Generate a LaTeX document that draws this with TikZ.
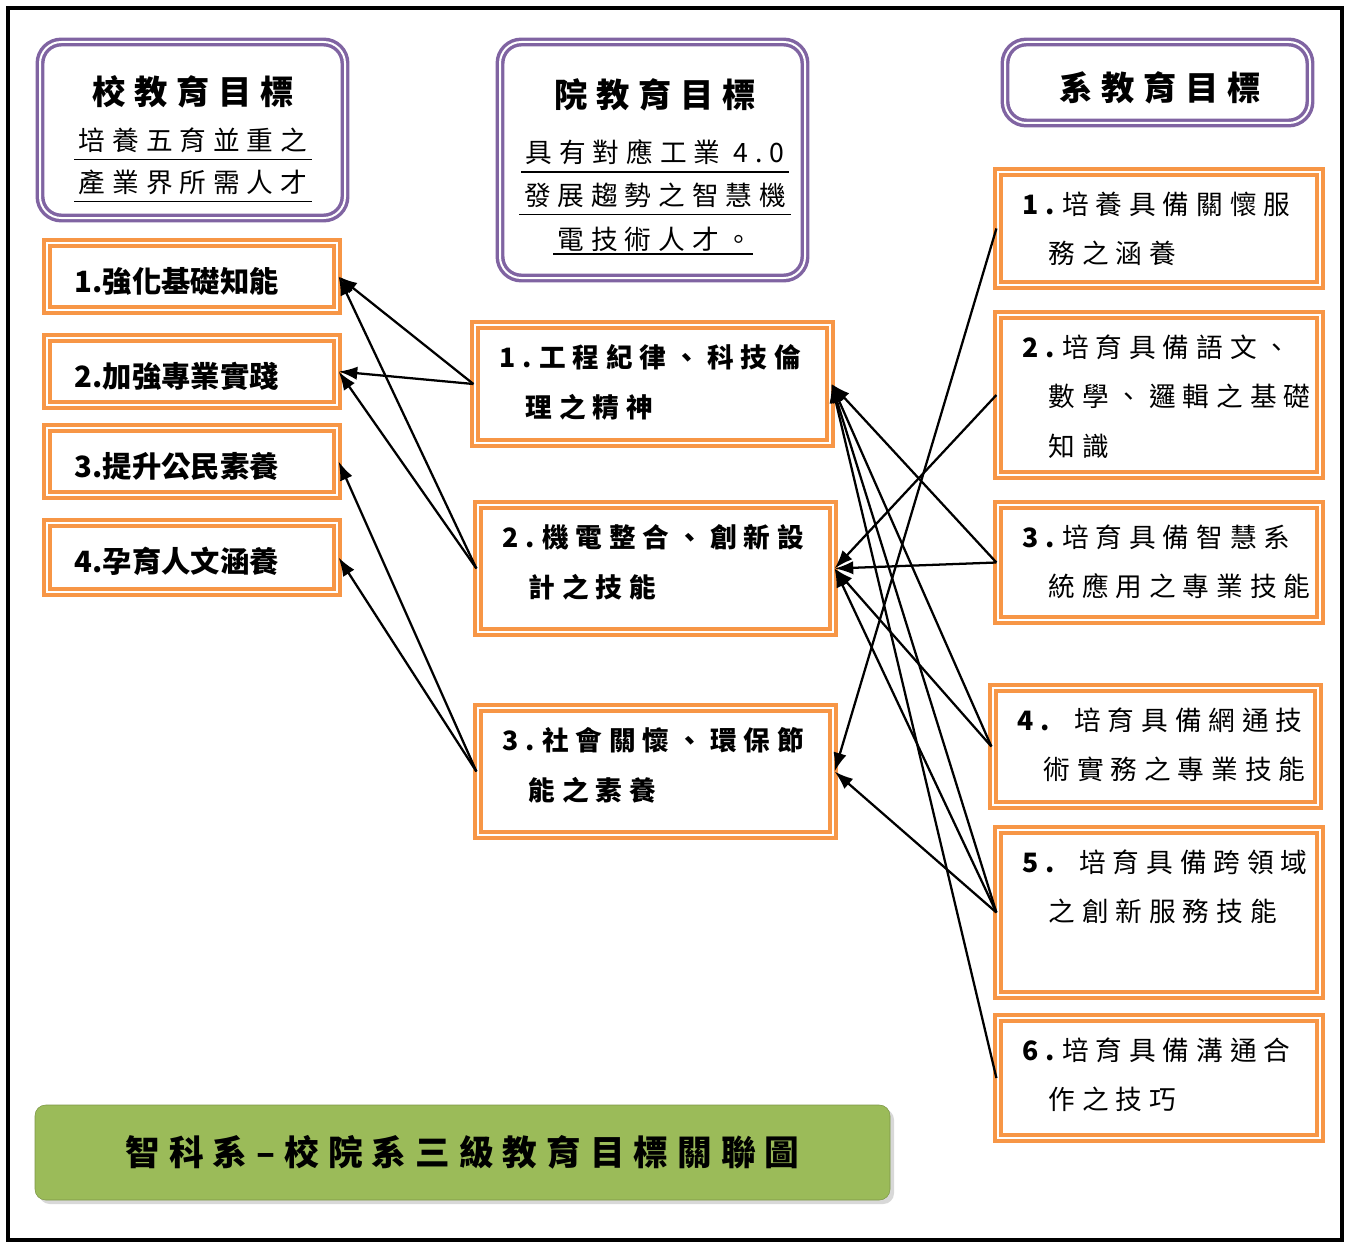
\documentclass[tikz,border=0pt]{standalone}
\usepackage{fontspec}
\usetikzlibrary{arrows.meta,shadows}
\newfontfamily\cjk{Noto Sans CJK TC}
\newfontfamily\cjksp[LetterSpace=26]{Noto Sans CJK TC}
\definecolor{goalOrange}{HTML}{F79646}
\definecolor{goalPurple}{HTML}{8064A2}
\definecolor{goalGreen}{HTML}{9BBB59}
\tikzset{
  obox/.style={draw=goalOrange, line width=2.4pt, double=white, double distance=2.2pt, inner sep=0pt},
  pbox/.style={draw=goalPurple, line width=2.6pt, double=white, double distance=1.5pt, rounded corners=16pt, inner sep=0pt},
  gbox/.style={fill=goalGreen, draw=goalGreen!80!black, rounded corners=8pt, drop shadow={fill=black!30, shadow xshift=3pt, shadow yshift=-3pt}, inner sep=0pt},
  ptitle/.style={font=\cjksp\fontsize{25}{30}\selectfont\bfseries, anchor=center},
  pline/.style={font=\cjksp\fontsize{20}{26}\selectfont, anchor=center},
  ltext/.style={font=\cjk\fontsize{22}{26}\selectfont\bfseries, anchor=west},
  mtext/.style={font=\cjksp\fontsize{20}{37}\selectfont\bfseries, anchor=north west, align=left},
  rtext/.style={font=\cjksp\fontsize{20}{37}\selectfont, anchor=north west, align=left},
  link/.style={-{Latex[length=14pt,width=10pt]}, line width=1.7pt, black}
}
\newcommand\goalbox[6]{\node[#6, minimum width={(#4-#2)*0.75pt}, minimum height={(#5-#3)*0.75pt}] (#1) at ({(#2+#4)/2},{(#3+#5)/2}) {};}
\newcommand\ulline[1]{\draw[line width=0.8pt] ([yshift=-2pt]#1.south west) -- ([yshift=-2pt]#1.south east);}
\begin{document}
\begin{tikzpicture}[x=0.75pt,y=-0.75pt]
\useasboundingbox (0,0) rectangle (1345,1245);
\draw[line width=2.4pt] (8,8) rectangle (1342,1240);

% purple headers
\goalbox{school}{40}{42}{345}{218}{pbox}
\goalbox{college}{500}{42}{805}{278}{pbox}
\goalbox{dept}{1005}{42}{1310}{123}{pbox}
\node[ptitle] (schoolt) at (193,92) {校教育目標};
\node[pline] (schoola) at (193,140) {培養五育並重之};
\node[pline] (schoolb) at (193,182) {產業界所需人才};
\ulline{schoola}\ulline{schoolb}
\node[ptitle] (colleget) at (655,95) {院教育目標};
\node[pline] (collegea) at (655,152) {具有對應工業 4.0};
\node[pline] (collegeb) at (655,195) {發展趨勢之智慧機};
\node[pline] (collegec) at (655,239) {電技術人才。};
\ulline{collegea}\ulline{collegeb}
\draw[line width=0.8pt] (553,254) -- (753,254);
\node[ptitle] (deptt) at (1160,88) {系教育目標};

% school goals
\goalbox{l1}{47}{243}{337}{310}{obox}
\goalbox{l2}{47}{338}{337}{405}{obox}
\goalbox{l3}{47}{428}{337}{495}{obox}
\goalbox{l4}{47}{523}{337}{592}{obox}
\node[ltext] at (70,281) {1.強化基礎知能};
\node[ltext] at (70,376) {2.加強專業實踐};
\node[ltext] at (70,466) {3.提升公民素養};
\node[ltext] at (70,561) {4.孕育人文涵養};

% college goals
\goalbox{m1}{475}{325}{830}{443}{obox}
\goalbox{m2}{478}{505}{833}{632}{obox}
\goalbox{m3}{478}{708}{833}{835}{obox}
\node[mtext] at (495,340) {1.工程紀律、科技倫\\\ \ 理之精神};
\node[mtext] at (498,520) {2.機電整合、創新設\\\ \ 計之技能};
\node[mtext] at (498,723) {3.社會關懷、環保節\\\ \ 能之素養};

% dept goals
\goalbox{r1}{998}{172}{1320}{285}{obox}
\goalbox{r2}{998}{315}{1320}{475}{obox}
\goalbox{r3}{998}{505}{1320}{620}{obox}
\goalbox{r4}{993}{688}{1318}{805}{obox}
\goalbox{r5}{998}{830}{1320}{995}{obox}
\goalbox{r6}{998}{1018}{1320}{1138}{obox}
\node[rtext] at (1018,187) {\textbf{1.}培養具備關懷服\\\ \ 務之涵養};
\node[rtext] at (1018,330) {\textbf{2.}培育具備語文、\\\ \ 數學、邏輯之基礎\\\ \ 知識};
\node[rtext] at (1018,520) {\textbf{3.}培育具備智慧系\\\ \ 統應用之專業技能};
\node[rtext] at (1013,703) {\textbf{4.} 培育具備網通技\\\ \ 術實務之專業技能};
\node[rtext] at (1018,845) {\textbf{5.} 培育具備跨領域\\\ \ 之創新服務技能};
\node[rtext] at (1018,1033) {\textbf{6.}培育具備溝通合\\\ \ 作之技巧};

% links college -> school
\draw[link] (m1.west) -- (l1.east);
\draw[link] (m1.west) -- (l2.east);
\draw[link] (m2.west) -- (l1.east);
\draw[link] (m2.west) -- (l2.east);
\draw[link] (m3.west) -- (l3.east);
\draw[link] (m3.west) -- (l4.east);

% links dept -> college
\draw[link] (r1.west) -- (m3.east);
\draw[link] (r2.west) -- (m2.east);
\draw[link] (r3.west) -- (m1.east);
\draw[link] (r3.west) -- (m2.east);
\draw[link] (r4.west) -- (m1.east);
\draw[link] (r4.west) -- (m2.east);
\draw[link] (r5.west) -- (m1.east);
\draw[link] (r5.west) -- (m2.east);
\draw[link] (r5.west) -- (m3.east);
\draw[link] (r6.west) -- (m1.east);

% caption
\goalbox{caption}{35}{1105}{890}{1200}{gbox}
\node[font=\cjksp\fontsize{26}{30}\selectfont\bfseries] (captiont) at (caption) {智科系–校院系三級教育目標關聯圖};
\end{tikzpicture}
\end{document}
